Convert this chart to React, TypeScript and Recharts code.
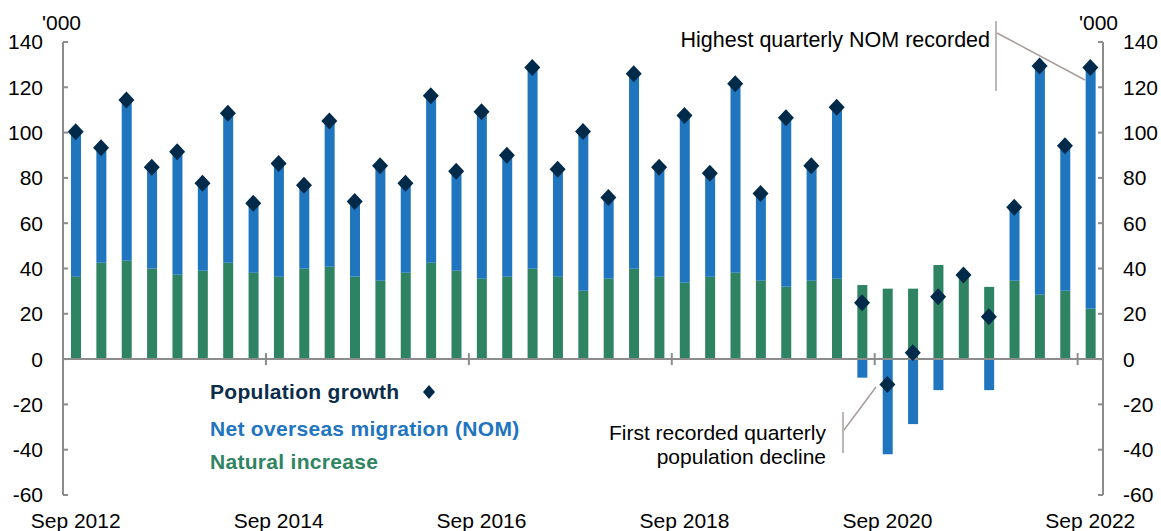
import { ComposedChart, Bar, Line, XAxis, YAxis, ReferenceLine } from 'recharts';

const quarters = [
  'Sep 2012', 'Dec 2012', 'Mar 2013', 'Jun 2013', 'Sep 2013', 'Dec 2013', 'Mar 2014', 'Jun 2014',
  'Sep 2014', 'Dec 2014', 'Mar 2015', 'Jun 2015', 'Sep 2015', 'Dec 2015', 'Mar 2016', 'Jun 2016',
  'Sep 2016', 'Dec 2016', 'Mar 2017', 'Jun 2017', 'Sep 2017', 'Dec 2017', 'Mar 2018', 'Jun 2018',
  'Sep 2018', 'Dec 2018', 'Mar 2019', 'Jun 2019', 'Sep 2019', 'Dec 2019', 'Mar 2020', 'Jun 2020',
  'Sep 2020', 'Dec 2020', 'Mar 2021', 'Jun 2021', 'Sep 2021', 'Dec 2021', 'Mar 2022', 'Jun 2022',
  'Sep 2022',
];

// '000 persons
const naturalIncrease = [
  36.4, 42.5, 43.4, 40.0, 37.2, 39.0, 42.5, 38.1, 36.4, 39.9, 40.8, 36.4, 34.6, 38.1, 42.5, 39.0,
  35.5, 36.4, 39.9, 36.4, 30.2, 35.5, 39.9, 36.4, 33.7, 36.4, 38.1, 34.6, 31.9, 34.6, 35.5, 32.7,
  31.1, 31.1, 41.5, 36.0, 31.9, 34.6, 28.4, 30.2, 22.2,
];

const netOverseasMigration = [
  64.0, 50.8, 71.0, 44.7, 54.4, 38.6, 66.0, 30.7, 50.0, 36.8, 64.3, 33.2, 50.8, 39.5, 73.8, 43.9,
  73.7, 53.6, 88.8, 47.4, 70.3, 35.9, 86.1, 48.3, 73.8, 45.6, 83.5, 38.5, 74.7, 50.8, 75.7, -8.2,
  -42.0, -28.7, -13.7, 1.1, -13.7, 32.4, 101.0, 64.0, 106.5,
];

const populationGrowth = [
  100.4, 93.3, 114.4, 84.7, 91.6, 77.6, 108.5, 68.8, 86.4, 76.7, 105.1, 69.6, 85.4, 77.6, 116.3, 82.9,
  109.2, 90.0, 128.7, 83.8, 100.5, 71.4, 126.0, 84.7, 107.5, 82.0, 121.6, 73.1, 106.6, 85.4, 111.2, 24.9,
  -11.2, 2.8, 27.5, 37.1, 18.7, 67.0, 129.4, 94.2, 128.7,
];

const yTicks = [-60, -40, -20, 0, 20, 40, 60, 80, 100, 120, 140];

const data = quarters.map((quarter, i) => ({
  quarter,
  natural: naturalIncrease[i],
  nom: netOverseasMigration[i],
  pop: populationGrowth[i],
}));

const AXIS = '#8c8c8c';
const GREEN = '#2e8462';
const BLUE = '#1f75be';
const NAVY = '#002a4a';
const NOTE = '#a89c9c';

// zero line doubles as the x axis, with ticks every 8 quarters at category boundaries
const ZeroAxis = (props: any) => {
  const { x1, x2, y1 } = props;
  const band = (x2 - x1) / quarters.length;
  const marks = quarters.map((_, i) => i).filter((i) => i > 0 && i % 8 === 0);
  return (
    <g>
      <line x1={x1} x2={x2} y1={y1} y2={y1} stroke={AXIS} strokeWidth={2} />
      {marks.map((i) => (
        <line key={i} x1={x1 + band * i} x2={x1 + band * i} y1={y1 - 6} y2={y1 + 6} stroke={AXIS} strokeWidth={2} />
      ))}
    </g>
  );
};

const DiamondDot = (props: any) => {
  const { cx, cy, index } = props;
  if (cx == null || cy == null) return null;
  return (
    <polygon
      key={index}
      points={`${cx},${cy - 8.5} ${cx + 8},${cy} ${cx},${cy + 8.5} ${cx - 8},${cy}`}
      fill={NAVY}
    />
  );
};

export default function App() {
  const tickStyle = { fill: '#000', fontSize: 21 };
  const axisProps = {
    domain: [-60, 140] as [number, number],
    ticks: yTicks,
    axisLine: { stroke: AXIS, strokeWidth: 2 },
    tickLine: { stroke: AXIS, strokeWidth: 2 },
    tickSize: -5,
    tickMargin: 25,
    tick: tickStyle,
    allowDataOverflow: true,
  };
  return (
    <div
      style={{
        position: 'absolute',
        left: 0,
        top: 0,
        width: 1161,
        height: 531,
        background: '#fff',
        fontFamily: '"Liberation Sans", Arial, sans-serif',
      }}
    >
      <ComposedChart
        width={1161}
        height={531}
        data={data}
        margin={{ top: 42, right: 0, left: 0, bottom: 0 }}
        stackOffset="sign"
        barSize={10}
      >
        <XAxis
          dataKey="quarter"
          interval={7}
          axisLine={false}
          tickLine={false}
          tickMargin={12}
          height={36}
          tick={tickStyle}
        />
        <YAxis yAxisId="left" width={63} {...axisProps} />
        <YAxis yAxisId="right" orientation="right" width={58} {...axisProps} />
        <Bar yAxisId="left" dataKey="natural" stackId="a" fill={GREEN} isAnimationActive={false} />
        <Bar yAxisId="left" dataKey="nom" stackId="a" fill={BLUE} isAnimationActive={false} />
        <ReferenceLine yAxisId="left" y={0} shape={ZeroAxis} />
        <Line
          yAxisId="right"
          dataKey="pop"
          stroke="none"
          dot={DiamondDot}
          activeDot={false}
          isAnimationActive={false}
        />
      </ComposedChart>

      <svg
        width={1161}
        height={531}
        style={{ position: 'absolute', left: 0, top: 0, pointerEvents: 'none' }}
        fontFamily='"Liberation Sans", Arial, sans-serif'
      >
        <text x={42} y={30} fontSize={21} fill="#000">'000</text>
        <text x={1118} y={30} fontSize={21} fill="#000" textAnchor="end">'000</text>

        <text x={990} y={47} fontSize={21.5} fill="#000" textAnchor="end">Highest quarterly NOM recorded</text>
        <line x1={996} x2={996} y1={21} y2={91} stroke={NOTE} strokeWidth={1.5} />
        <line x1={997} x2={1085} y1={33} y2={80} stroke={NOTE} strokeWidth={1.5} />

        <text x={826} y={440} fontSize={21} fill="#000" textAnchor="end">First recorded quarterly</text>
        <text x={826} y={464} fontSize={21} fill="#000" textAnchor="end">population decline</text>
        <line x1={843} x2={843} y1={412} y2={453} stroke={NOTE} strokeWidth={1.5} />
        <line x1={844} x2={876} y1={430} y2={387} stroke={NOTE} strokeWidth={1.5} />

        <g fontSize={21} fontWeight="bold" letterSpacing={0.3}>
          <text x={210} y={399} fill="#0b2d4a">Population growth</text>
          <text x={210} y={436} fill="#2174c0">Net overseas migration (NOM)</text>
          <text x={210} y={469} fill="#2f8462">Natural increase</text>
        </g>
        <polygon points="429,385 435,392 429,399 423,392" fill={NAVY} />
      </svg>
    </div>
  );
}
